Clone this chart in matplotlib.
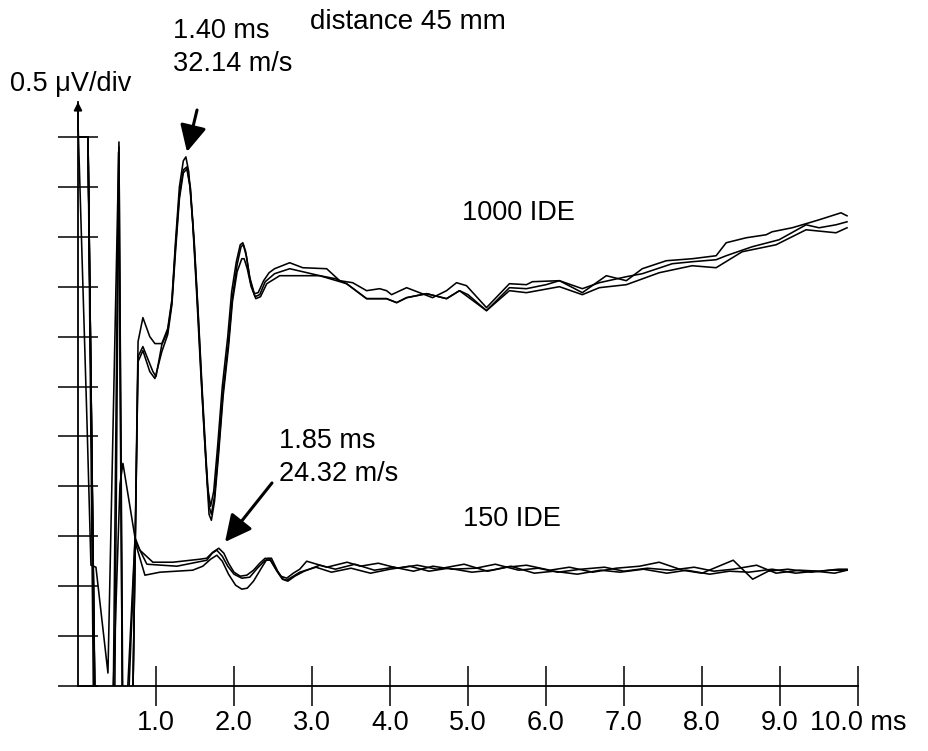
import matplotlib
matplotlib.use("Agg")
import matplotlib.pyplot as plt

plt.rcParams['font.family'] = ['Liberation Sans', 'DejaVu Sans']

# ---------------- data (time in ms, amplitude in µV) ----------------
t_1000a = [0, 0.115, 0.166, 0.23, 0.384, 0.525, 0.57, 0.70, 0.77, 0.832, 0.92, 0.986, 1.075, 1.15, 1.204,
           1.25, 1.30, 1.35, 1.383, 1.42, 1.47, 1.52, 1.57, 1.62, 1.66, 1.70, 1.74, 1.79, 1.85, 1.92,
           1.97, 2.03, 2.08, 2.113, 2.15, 2.20, 2.26, 2.31, 2.38, 2.45, 2.52, 2.714, 2.881, 3.188, 3.355,
           3.521, 3.70, 3.867, 3.956, 4.02, 4.213, 4.379, 4.545, 4.725, 4.853, 4.981, 5.237, 5.531, 5.749, 5.826,
           6.172, 6.466, 6.773, 7.03, 7.234, 7.542, 7.874, 8.181, 8.31, 8.566, 8.822, 8.899, 9.155, 9.373, 9.501,
           9.782, 9.859]
v_1000a = [5.65, 2.65, 1.21, 1.19, 0.13, 5.45, -0.3, -0.3, 3.45, 3.69, 3.50, 3.43, 3.43, 3.58, 3.87,
           4.45, 5.00, 5.26, 5.30, 5.15, 4.65, 3.95, 3.20, 2.50, 2.00, 1.80, 1.95, 2.40, 3.00, 3.50,
           3.95, 4.25, 4.42, 4.44, 4.35, 4.10, 3.93, 3.94, 4.06, 4.14, 4.18, 4.24, 4.19, 4.18, 4.06,
           4.04, 3.96, 3.98, 3.96, 3.92, 3.99, 3.94, 3.89, 3.96, 4.04, 4.01, 3.79, 4.03, 4.02, 4.05,
           4.06, 3.94, 4.11, 4.06, 4.18, 4.26, 4.28, 4.31, 4.44, 4.49, 4.52, 4.55, 4.59, 4.64, 4.67,
           4.74, 4.71]

t_1000b = [0, 0.128, 0.22, 0.47, 0.525, 0.575, 0.70, 0.77, 0.832, 0.96, 1.00, 1.075, 1.15, 1.204, 1.25,
           1.30, 1.35, 1.396, 1.44, 1.49, 1.54, 1.59, 1.64, 1.68, 1.71, 1.75, 1.80, 1.86, 1.93, 1.98,
           2.04, 2.09, 2.12, 2.16, 2.21, 2.27, 2.33, 2.40, 2.52, 2.714, 2.881, 3.099, 3.30, 3.444, 3.70,
           3.956, 4.085, 4.213, 4.469, 4.725, 4.891, 5.0, 5.237, 5.531, 5.749, 6.0, 6.172, 6.466, 6.684, 7.03,
           7.234, 7.618, 7.874, 8.181, 8.31, 8.643, 8.988, 9.334, 9.501, 9.718, 9.859]
v_1000b = [5.5, 5.5, -0.3, -0.3, 5.40, -0.3, -0.3, 3.30, 3.40, 3.15, 3.10, 3.42, 3.55, 3.85, 4.40,
           4.92, 5.17, 5.20, 5.00, 4.45, 3.75, 3.00, 2.30, 1.80, 1.72, 1.90, 2.35, 2.95, 3.45, 3.90,
           4.22, 4.40, 4.42, 4.30, 4.05, 3.90, 3.92, 4.05, 4.13, 4.18, 4.15, 4.11, 4.08, 4.03, 3.88,
           3.88, 3.84, 3.89, 3.93, 3.88, 3.96, 3.92, 3.76, 3.99, 3.98, 4.02, 4.06, 3.98, 4.04, 4.10,
           4.13, 4.23, 4.25, 4.27, 4.31, 4.40, 4.47, 4.62, 4.59, 4.62, 4.65]

t_1000c = [0, 0.128, 0.20, 0.45, 0.52, 0.57, 0.70, 0.77, 0.832, 0.92, 0.986, 1.075, 1.15, 1.204, 1.25,
           1.30, 1.35, 1.396, 1.44, 1.49, 1.54, 1.59, 1.64, 1.68, 1.71, 1.75, 1.80, 1.86, 1.93, 1.98,
           2.04, 2.10, 2.13, 2.17, 2.22, 2.28, 2.34, 2.42, 2.586, 3.099, 3.444, 3.70, 3.956, 4.085, 4.213,
           4.469, 4.725, 4.891, 5.237, 5.531, 5.749, 6.172, 6.466, 6.684, 7.03, 7.452, 7.874, 8.181, 8.515, 8.95,
           9.334, 9.718, 9.859]
v_1000c = [5.5, 5.5, -0.3, -0.3, 5.35, -0.3, -0.3, 3.25, 3.36, 3.15, 3.08, 3.35, 3.52, 3.82, 4.35,
           4.88, 5.14, 5.18, 4.98, 4.42, 3.72, 2.95, 2.25, 1.72, 1.66, 1.85, 2.30, 2.90, 3.40, 3.85,
           4.15, 4.28, 4.28, 4.18, 4.00, 3.88, 3.90, 4.03, 4.11, 4.11, 4.03, 3.88, 3.88, 3.84, 3.89,
           3.93, 3.88, 3.96, 3.76, 3.96, 3.94, 4.00, 3.92, 3.99, 4.02, 4.14, 4.21, 4.19, 4.35, 4.42,
           4.57, 4.54, 4.59]

t_150a = [0, 0.128, 0.218, 0.44, 0.538, 0.576, 0.73, 0.794, 0.96, 1.216, 1.562, 1.65, 1.728, 1.805, 1.87,
          1.93, 2.0, 2.08, 2.164, 2.25, 2.33, 2.40, 2.458, 2.53, 2.60, 2.676, 2.76, 2.843, 2.932, 3.19,
          3.45, 3.62, 3.85, 4.1, 4.35, 4.6, 4.95, 5.25, 5.5, 5.75, 6.05, 6.3, 6.6, 6.9, 7.2,
          7.45, 7.75, 8.0, 8.4, 8.65, 8.85, 9.1, 9.4, 9.65, 9.86]
v_150a = [5.5, 5.5, -0.3, -0.3, 2.02, 2.23, 1.49, 1.36, 1.24, 1.24, 1.27, 1.28, 1.34, 1.38, 1.33,
          1.23, 1.14, 1.10, 1.11, 1.16, 1.23, 1.28, 1.27, 1.18, 1.10, 1.08, 1.13, 1.17, 1.25, 1.19,
          1.24, 1.20, 1.23, 1.18, 1.21, 1.17, 1.22, 1.15, 1.19, 1.21, 1.16, 1.19, 1.14, 1.18, 1.20,
          1.24, 1.16, 1.13, 1.26, 1.07, 1.15, 1.17, 1.14, 1.16, 1.16]

t_150b = [0, 0.128, 0.218, 0.62, 0.73, 0.883, 1.268, 1.652, 1.72, 1.78, 1.85, 1.92, 2.0, 2.1, 2.202,
          2.30, 2.40, 2.47, 2.55, 2.62, 2.69, 2.78, 2.9, 3.1, 3.3, 3.55, 3.8, 4.05, 4.3, 4.55,
          4.8, 5.1, 5.35, 5.65, 5.9, 6.15, 6.45, 6.75, 7.0, 7.3, 7.6, 7.9, 8.15, 8.4, 8.7,
          8.95, 9.25, 9.5, 9.75, 9.86]
v_150b = [5.5, 5.5, -0.3, -0.3, 1.46, 1.22, 1.20, 1.26, 1.33, 1.36, 1.30, 1.20, 1.12, 1.08, 1.09,
          1.18, 1.26, 1.26, 1.15, 1.07, 1.05, 1.10, 1.15, 1.21, 1.17, 1.22, 1.16, 1.19, 1.15, 1.20,
          1.17, 1.18, 1.22, 1.16, 1.18, 1.14, 1.17, 1.19, 1.15, 1.18, 1.16, 1.19, 1.15, 1.17, 1.21,
          1.13, 1.16, 1.15, 1.17, 1.17]

t_150c = [0, 0.128, 0.218, 0.64, 0.73, 0.858, 1.05, 1.47, 1.6, 1.70, 1.78, 1.85, 1.93, 2.02, 2.10,
          2.17, 2.25, 2.35, 2.43, 2.48, 2.56, 2.63, 2.676, 2.76, 2.843, 3.05, 3.25, 3.5, 3.75, 4.0,
          4.25, 4.5, 4.75, 5.05, 5.3, 5.55, 5.85, 6.1, 6.4, 6.7, 6.95, 7.25, 7.55, 7.8, 8.1,
          8.35, 8.6, 8.9, 9.2, 9.45, 9.7, 9.86]
v_150c = [5.5, 5.5, -0.3, -0.3, 1.45, 1.11, 1.14, 1.16, 1.20, 1.27, 1.31, 1.25, 1.12, 1.01, 0.97,
          0.98, 1.05, 1.18, 1.28, 1.28, 1.15, 1.07, 1.06, 1.10, 1.14, 1.19, 1.14, 1.18, 1.13, 1.17,
          1.20, 1.15, 1.18, 1.14, 1.16, 1.20, 1.13, 1.15, 1.12, 1.16, 1.14, 1.17, 1.13, 1.16, 1.12,
          1.15, 1.14, 1.17, 1.13, 1.15, 1.13, 1.16]

x_ticks = [1, 2, 3, 4, 5, 6, 7, 8, 9, 10]
x_tick_labels = ["1.0", "2.0", "3.0", "4.0", "5.0", "6.0", "7.0", "8.0", "9.0", "10.0 ms"]
y_ticks = [0, 0.5, 1.0, 1.5, 2.0, 2.5, 3.0, 3.5, 4.0, 4.5, 5.0, 5.5]

# ---------------- figure ----------------
W, H = 929, 751
fig = plt.figure(figsize=(W / 100, H / 100), dpi=100)
ax = fig.add_axes([78 / W, 65 / H, (870 - 78) / W, (686 - 102) / H])
ax.set_xlim(0, (870 - 78) / 78)
ax.set_ylim(0, 5.85)

lw = 1.15
for t, v in [(t_1000a, v_1000a), (t_1000b, v_1000b), (t_1000c, v_1000c),
             (t_150a, v_150a), (t_150b, v_150b), (t_150c, v_150c)]:
    ax.plot(t, v, color='black', lw=lw, solid_joinstyle='round')

for s in ['top', 'right']:
    ax.spines[s].set_visible(False)
ax.spines['left'].set_linewidth(1.3)
ax.spines['bottom'].set_linewidth(1.3)
ax.spines['bottom'].set_bounds(0, 10)

fs = 19.5
ax.set_xticks(x_ticks)
ax.set_xticklabels(x_tick_labels, fontsize=fs)
ax.set_yticks(y_ticks)
ax.set_yticklabels([])
ax.tick_params(axis='both', direction='inout', length=28.8, width=1.1, color='black')
ax.tick_params(axis='x', pad=3)

# y-axis arrow head
ax.annotate('', xy=(0, 1.0), xycoords=('data', 'axes fraction'),
            xytext=(0, 0.95), textcoords=('data', 'axes fraction'),
            arrowprops=dict(arrowstyle='-|>', color='black', lw=1.3,
                            mutation_scale=12, shrinkA=0, shrinkB=0),
            annotation_clip=False)

fig.text(408 / W, 1 - 22 / H, 'distance 45 mm', ha='center', va='center', fontsize=20)
fig.text(10 / W, 1 - 84 / H, '0.5 \u03bcV/div', ha='left', va='center', fontsize=fs)

ax.text(1.218, 6.40, '1.40 ms\n32.14 m/s', ha='left', va='center', fontsize=fs,
        linespacing=1.35, clip_on=False)
ax.annotate('', xy=(1.397, 5.35), xytext=(1.526, 5.77),
            arrowprops=dict(arrowstyle='-|>,head_length=0.9,head_width=0.45', color='black',
                            lw=2.2, mutation_scale=18, shrinkA=0, shrinkB=0),
            annotation_clip=False)

ax.text(4.923, 4.74, '1000 IDE', ha='left', va='center', fontsize=fs)

ax.text(2.577, 2.29, '1.85 ms\n24.32 m/s', ha='left', va='center', fontsize=fs,
        linespacing=1.35)
ax.annotate('', xy=(1.885, 1.443), xytext=(2.487, 2.034),
            arrowprops=dict(arrowstyle='-|>,head_length=0.9,head_width=0.45', color='black',
                            lw=2.2, mutation_scale=18, shrinkA=0, shrinkB=0))

ax.text(4.936, 1.673, '150 IDE', ha='left', va='center', fontsize=fs)

fig.savefig('out.png', dpi=100)
